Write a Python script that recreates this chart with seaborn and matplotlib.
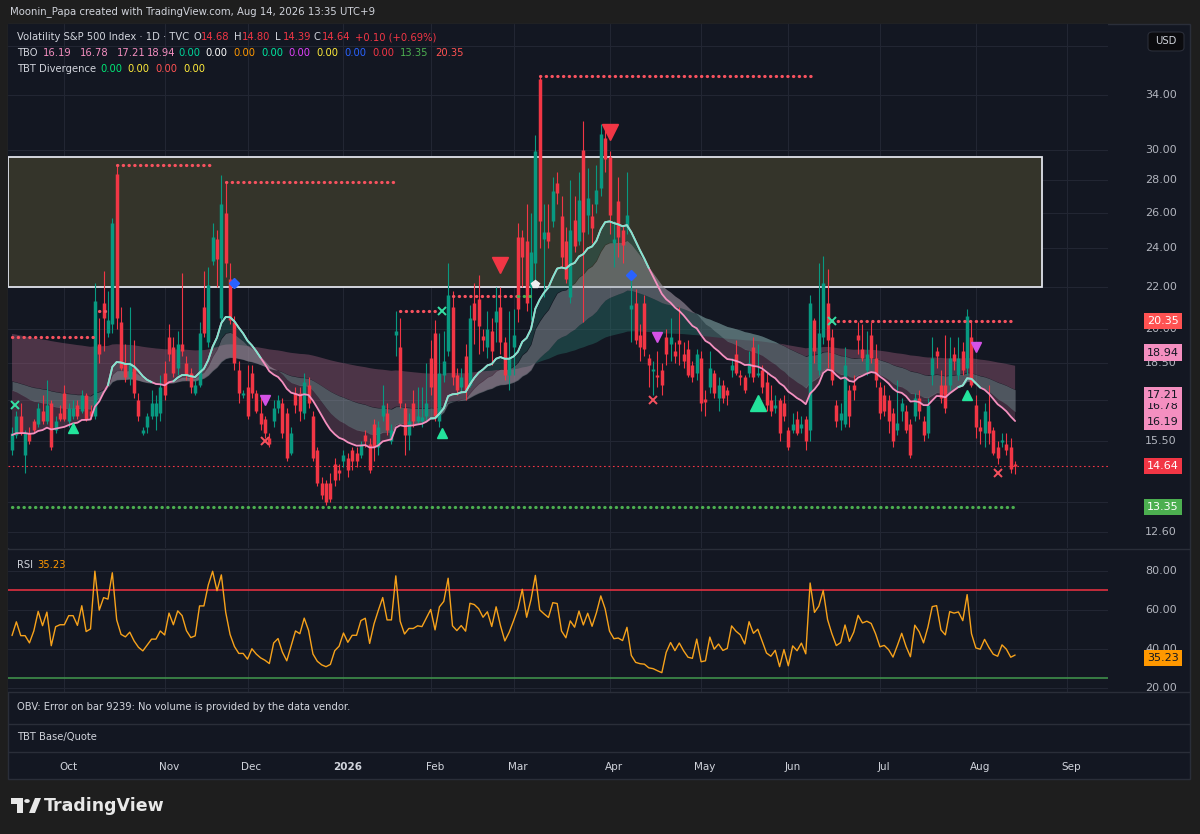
import numpy as np
import pandas as pd
import seaborn as sns
import matplotlib.pyplot as plt
from matplotlib.patches import Rectangle, Polygon, Circle, FancyBboxPatch
from matplotlib.transforms import blended_transform_factory, offset_copy

# ---- VIX daily candles, 15 Sep 2025 .. 14 Aug 2026 ----
opens = [
    15.2, 15.7, 16.4, 15.0, 15.8, 16.2, 16.1, 16.6, 16.2, 16.9,
    15.9, 16.5, 17.3, 16.2, 16.4, 16.8, 16.6, 17.2, 16.6, 16.4,
    19.3, 21.2, 19.8, 20.2, 28.4, 20.3, 18.5, 17.9, 18.3, 17.0,
    15.8, 16.0, 16.4, 16.4, 16.5, 18.1, 19.6, 19.2, 18.3, 19.3,
    18.5, 18.1, 17.3, 17.6, 21.0, 19.4, 23.3, 24.5, 20.5, 26.0,
    22.4, 20.3, 18.2, 17.2, 17.5, 18.1, 17.3, 16.5, 16.3, 15.6,
    16.2, 16.7, 16.9, 16.5, 15.1, 17.3, 17.3, 16.5, 17.6, 16.4,
    15.2, 14.1, 14.1, 14.1, 14.7, 14.5, 14.8, 14.9, 15.2, 15.1,
    15.0, 15.7, 15.4, 16.1, 15.3, 16.4, 16.5, 15.5, 19.7, 19.2,
    16.7, 15.7, 16.9, 16.2, 16.2, 16.4, 18.7, 19.8, 16.2, 18.0,
    19.0, 21.0, 18.0, 17.5, 18.8, 17.6, 21.2, 21.4, 19.65, 19.2,
    19.9, 20.3, 21.0, 19.4, 18.0, 19.2, 24.6, 24.6, 24.4, 22.0,
    23.2, 35.2, 24.5, 24.9, 25.5, 27.8, 25.8, 24.4, 21.5, 25.6,
    24.4, 30.0, 25.9, 25.8, 26.5, 27.5, 30.8, 29.5, 24.3, 26.7,
    25.0, 25.2, 20.9, 21.2, 19.7, 21.2, 18.7, 18.15, 18.0, 18.2,
    19.6, 19.3, 19.0, 19.5, 18.9, 19.1, 18.4, 18.1, 18.7, 17.05,
    17.5, 18.1, 17.1, 17.6, 17.4, 18.2, 18.9, 18.0, 17.9, 18.1,
    19.2, 18.0, 18.2, 17.7, 17.0, 16.7, 17.0, 16.9, 15.9, 15.9,
    16.3, 15.95, 16.3, 15.9, 20.4, 18.2, 19.6, 21.2, 19.6, 16.8,
    16.25, 16.1, 17.4, 17.6, 19.7, 19.1, 18.2, 19.7, 18.7, 17.5,
    17.2, 17.0, 16.5, 15.9, 16.6, 16.6, 16.1, 16.4, 17.1, 16.2,
    15.8, 18.0, 19.0, 17.6, 17.6, 17.6, 18.9, 18.0, 19.0, 18.3,
    19.6, 16.8, 16.0, 15.8, 16.2, 15.9, 15.3, 15.45, 15.4, 15.3,
    14.68,
]
highs = [
    16.0, 16.6, 16.9, 15.9, 16.0, 16.3, 16.9, 17.2, 17.8, 17.0,
    16.4, 16.8, 17.6, 16.9, 17.0, 17.0, 17.4, 17.3, 16.8, 22.2,
    20.5, 22.8, 21.8, 25.7, 29.0, 21.0, 19.3, 21.0, 19.5, 17.3,
    16.0, 16.5, 17.4, 17.2, 18.0, 18.6, 20.2, 19.6, 19.9, 22.7,
    18.8, 18.3, 17.8, 20.3, 22.8, 23.0, 25.4, 25.0, 28.3, 27.9,
    23.2, 20.6, 18.6, 17.4, 18.4, 18.4, 17.4, 17.2, 16.4, 15.8,
    17.0, 17.2, 17.1, 16.7, 16.0, 17.5, 17.5, 18.1, 17.9, 16.6,
    15.3, 14.3, 14.2, 14.4, 14.9, 14.7, 15.2, 15.1, 15.3, 15.3,
    15.5, 15.9, 15.6, 16.3, 16.2, 17.6, 16.9, 16.1, 20.8, 20.5,
    16.9, 16.5, 17.4, 17.5, 17.5, 18.5, 19.5, 20.4, 19.8, 19.9,
    23.2, 21.8, 18.3, 18.3, 19.3, 21.1, 22.2, 22.6, 20.0, 20.8,
    20.5, 22.0, 22.0, 19.6, 20.8, 20.9, 25.4, 25.0, 26.5, 26.0,
    31.0, 35.5, 26.5, 26.5, 28.2, 28.5, 27.0, 25.2, 28.0, 27.0,
    28.5, 32.0, 28.8, 26.5, 29.0, 31.8, 31.5, 29.9, 25.5, 28.2,
    25.3, 28.5, 22.6, 21.9, 20.2, 21.6, 18.9, 18.6, 19.0, 18.5,
    20.0, 20.5, 19.4, 21.0, 19.4, 19.5, 18.6, 19.1, 19.0, 17.4,
    19.0, 18.2, 17.9, 17.8, 17.5, 18.7, 19.5, 18.2, 18.0, 19.0,
    19.6, 19.3, 18.4, 18.1, 17.6, 17.2, 17.1, 17.2, 16.0, 16.5,
    16.6, 16.4, 16.4, 21.6, 20.5, 23.2, 23.6, 22.9, 20.0, 17.0,
    16.9, 19.2, 17.6, 18.0, 20.3, 20.2, 19.9, 20.3, 19.3, 17.7,
    17.6, 17.2, 16.7, 17.8, 17.1, 16.8, 16.3, 17.3, 17.4, 16.4,
    17.1, 19.6, 19.2, 18.2, 19.7, 19.6, 19.2, 19.6, 19.4, 20.9,
    20.3, 17.2, 16.3, 16.9, 17.6, 16.0, 15.5, 15.8, 15.8, 15.6,
    14.80,
]
lows = [
    15.0, 15.6, 15.7, 14.4, 15.4, 15.8, 16.0, 16.1, 16.1, 15.2,
    15.8, 16.2, 16.2, 16.0, 16.3, 16.3, 16.5, 16.2, 16.3, 16.3,
    18.5, 19.0, 19.6, 19.8, 20.0, 18.2, 17.7, 17.6, 17.1, 16.2,
    15.7, 15.8, 16.3, 15.9, 16.2, 17.0, 18.6, 17.9, 18.0, 18.8,
    17.8, 17.3, 17.2, 17.5, 19.6, 19.2, 23.1, 22.0, 20.2, 22.5,
    20.2, 18.2, 16.9, 17.1, 16.3, 17.1, 16.5, 15.9, 15.6, 15.3,
    16.0, 16.5, 15.6, 14.8, 15.0, 16.5, 16.2, 16.3, 16.7, 14.8,
    14.0, 13.6, 13.4, 13.5, 14.0, 14.2, 14.6, 14.3, 14.5, 14.6,
    14.9, 15.3, 14.4, 14.8, 15.0, 16.2, 15.7, 15.4, 18.8, 16.7,
    15.0, 15.2, 16.0, 16.1, 16.0, 16.2, 17.2, 16.2, 16.0, 17.7,
    18.8, 17.6, 17.2, 17.3, 17.0, 17.5, 19.3, 18.9, 19.0, 18.7,
    18.4, 19.4, 18.9, 17.8, 17.4, 18.0, 20.3, 22.0, 20.8, 20.4,
    22.2, 24.0, 21.5, 24.0, 25.2, 26.5, 23.0, 22.2, 21.2, 23.8,
    24.2, 20.3, 24.8, 24.3, 26.0, 27.0, 28.5, 24.8, 23.0, 23.5,
    23.2, 24.8, 19.4, 19.3, 18.6, 18.8, 17.5, 17.2, 17.5, 17.2,
    18.4, 18.6, 18.5, 18.4, 18.3, 17.9, 17.7, 17.8, 16.6, 16.4,
    17.3, 17.1, 16.6, 16.9, 16.8, 17.9, 18.0, 17.6, 17.3, 17.9,
    17.7, 17.9, 17.3, 16.6, 16.4, 16.5, 15.5, 16.2, 15.2, 15.8,
    15.7, 15.8, 15.2, 15.5, 18.5, 18.0, 19.3, 18.3, 17.6, 16.0,
    15.9, 16.0, 16.0, 17.0, 18.9, 18.6, 18.0, 18.5, 17.5, 16.3,
    16.4, 15.8, 15.3, 15.7, 16.2, 15.8, 14.9, 16.2, 16.3, 15.5,
    15.6, 17.6, 18.3, 16.9, 16.5, 17.4, 18.2, 17.8, 18.0, 18.0,
    17.5, 15.6, 15.4, 15.3, 15.4, 15.0, 14.7, 15.3, 15.0, 14.4,
    14.39,
]
closes = [
    15.8, 16.4, 15.8, 15.8, 15.5, 15.9, 16.7, 16.2, 16.8, 15.3,
    16.2, 16.3, 16.3, 16.7, 16.7, 16.4, 17.2, 16.3, 16.4, 21.3,
    18.9, 20.5, 20.4, 25.4, 20.5, 18.3, 17.9, 18.5, 17.3, 16.4,
    15.9, 16.4, 16.9, 16.9, 17.5, 17.2, 18.9, 18.1, 19.3, 19.0,
    18.0, 17.5, 17.6, 19.8, 19.8, 22.1, 24.6, 23.4, 26.5, 23.2,
    20.4, 18.5, 17.3, 17.3, 16.4, 17.3, 16.6, 16.1, 15.8, 15.4,
    16.7, 17.0, 15.8, 14.9, 15.8, 16.8, 16.6, 17.7, 16.9, 14.9,
    14.1, 13.7, 13.5, 13.6, 14.2, 14.4, 15.0, 14.5, 14.8, 14.8,
    15.4, 15.5, 14.5, 15.3, 16.0, 16.8, 15.9, 15.9, 19.9, 16.9,
    15.7, 16.2, 16.2, 16.4, 16.35, 16.9, 17.5, 16.4, 18.1, 18.6,
    21.6, 17.9, 17.4, 17.9, 17.4, 20.5, 20.4, 20.1, 19.5, 20.0,
    19.0, 20.8, 19.4, 18.0, 18.7, 19.7, 20.9, 23.5, 21.2, 23.8,
    29.9, 25.5, 24.9, 24.4, 27.3, 27.2, 23.5, 22.4, 25.0, 24.1,
    26.8, 24.9, 26.9, 25.1, 27.4, 31.1, 29.4, 25.9, 24.5, 24.6,
    24.2, 25.9, 21.1, 19.5, 19.2, 19.1, 18.4, 18.25, 17.9, 17.6,
    18.9, 19.6, 18.8, 19.3, 18.6, 18.0, 17.9, 18.9, 16.9, 16.95,
    18.3, 17.3, 17.6, 17.1, 17.2, 18.4, 18.1, 17.9, 17.4, 18.5,
    17.9, 18.1, 17.5, 16.8, 16.6, 16.8, 15.8, 16.4, 15.3, 16.1,
    15.8, 16.1, 15.5, 21.2, 19.0, 19.8, 22.2, 19.5, 17.8, 16.2,
    16.5, 18.4, 16.4, 17.4, 19.5, 18.7, 18.9, 18.7, 17.8, 16.5,
    16.6, 16.2, 15.5, 16.15, 16.9, 15.9, 15.0, 17.1, 16.6, 15.7,
    16.8, 18.7, 18.8, 17.1, 16.7, 18.7, 18.6, 18.7, 18.2, 20.6,
    17.6, 16.0, 15.85, 16.6, 15.8, 15.1, 14.9, 15.55, 15.2, 14.54,
    14.64,
]

first_day = "2025-09-15"
holidays = ["2025-11-27", "2025-12-25", "2026-01-01", "2026-01-19", "2026-02-16",
            "2026-04-03", "2026-05-25", "2026-06-19", "2026-07-03"]

# TBO moving averages: span and the level each one starts from at the first bar
tbo_spans = [20, 30, 70, 200]
tbo_seeds = [15.7, 17.5, 17.8, 19.8]
rsi_len = 8
rsi_seed = (0.30, 0.34)   # average gain / loss before the first bar

# dotted TBO levels: (first bar, last bar, price, colour)
levels = [
    (0, 18.5, 19.6, "r"), (20, 22, 20.8, "r"), (24, 46, 29.0, "r"),
    (49, 88.5, 27.9, "r"), (89, 98, 20.8, "r"), (101, 116, 21.55, "r"),
    (116, 120, 21.55, "g"), (121, 183.5, 35.5, "r"), (188, 230, 20.35, "r"),
    (0, 230, 13.35, "g"),
]

# signal markers: (bar, price, kind)
signals = [
    (0.7, 16.8, "gx"), (14, 15.95, "g^"), (51, 22.2, "bd"), (58, 17.0, "mv"),
    (58, 15.5, "rx"), (98.5, 20.8, "gx"), (98.5, 15.8, "g^"), (112, 23.1, "RV"),
    (120, 22.15, "w"), (137, 31.2, "RV"), (142, 22.6, "bd"), (148, 19.6, "mv"),
    (147, 17.0, "rx"), (171, 16.9, "G^"), (188, 20.35, "gx"), (219, 17.2, "g^"),
    (221, 19.2, "mv"), (226, 14.4, "rx"),
]

box_bars = (-1, 236.2)
box_prices = (22.0, 29.5)

tbo_values = [16.19, 16.78, 17.21, 18.94]
support, resistance = 13.35, 20.35
rsi_last = 35.23
grid_ticks = [38, 34, 30, 28, 26, 24, 22, 20, 18.5, 17, 15.5, 13.5, 12.6]
price_ticks = [34, 30, 28, 26, 24, 22, 20, 18.5, 15.5, 12.6]
rsi_ticks = [80, 60, 40, 20]
rsi_upper, rsi_lower = 70, 25

# ---- derived series ----
n = len(closes)
x = np.arange(n)
o, h, l, c = map(np.array, (opens, highs, lows, closes))


def ema(vals, span, seed):
    a = 2 / (span + 1)
    out, prev = [], seed
    for v in vals:
        prev = prev + a * (v - prev)
        out.append(prev)
    return np.array(out)


l1, l2, l3, l4 = [ema(c, sp, sd) for sp, sd in zip(tbo_spans, tbo_seeds)]

diff = np.diff(c, prepend=c[0])
ag, al = rsi_seed
rsi = []
for d in diff:
    ag = (ag * (rsi_len - 1) + max(d, 0)) / rsi_len
    al = (al * (rsi_len - 1) + max(-d, 0)) / rsi_len
    rsi.append(100 - 100 / (1 + ag / al))
rsi = np.array(rsi)

dates = pd.bdate_range(first_day, "2026-09-30", freq="C", holidays=holidays)
months = pd.Series(np.arange(len(dates)), index=dates)
month_first = months.groupby(dates.to_period("M")).first()
month_first = month_first[month_first > 0]

# ---- style ----
sns.set_theme(style="dark")
plt.rcParams["font.family"] = ["DejaVu Sans"]
BG = "#131722"
GRID = "#222633"
TXT = "#d1d4dc"
UP, DN = "#089981", "#f23645"
RED_DOT, GRN_DOT = "#f7525f", "#4caf50"
TEAL, PINK, GREY = "#2b7a70", "#a3607f", "#9aa4ab"

W, H = 1200, 834
fig = plt.figure(figsize=(12, 8.34), dpi=100)
fig.patch.set_facecolor("#1e1e1e")


def fx(px):
    return px / W


def fy(py):
    return 1 - py / H


def px_axes(x0, y0, w, hh):
    a = fig.add_axes([fx(x0), fy(y0 + hh), w / W, hh / H])
    a.set_facecolor(BG)
    for sp in a.spines.values():
        sp.set_visible(False)
    return a


def ftext(px, py, txt, color=TXT, size=7.2, **kw):
    fig.text(fx(px), fy(py), txt, color=color, fontsize=size, va="center", **kw)


fig.patches.append(Rectangle((fx(8), fy(779)), 1182 / W, 755 / H, transform=fig.transFigure,
                             fc=BG, ec="#2a2e39", lw=1, zorder=-5))

XL = (-0.92, 251.3)

# ---- price pane ----
ax = px_axes(8, 24, 1100, 524)
ax.set_yscale("log")
ax.set_xlim(*XL)
ax.set_ylim(12.16, 39.9)
ax.set_xticks([])
ax.set_yticks([])
ax.minorticks_off()
for t in grid_ticks:
    ax.axhline(t, color=GRID, lw=0.8, zorder=0)
for i in month_first.values:
    ax.axvline(i, color=GRID, lw=0.8, zorder=0)

ax.add_patch(Rectangle((box_bars[0], box_prices[0]), box_bars[1] - box_bars[0],
                       box_prices[1] - box_prices[0], fc="#34342a", ec="#e0e3eb", lw=1.3, zorder=1))


def cloud(a, b, alpha):
    ax.fill_between(x, a, b, where=a >= b, interpolate=True, color=TEAL, alpha=alpha, lw=0, zorder=1.5)
    ax.fill_between(x, a, b, where=a < b, interpolate=True, color=PINK, alpha=alpha, lw=0, zorder=1.5)


cloud(l1, l2, 0.30)
cloud(l3, l4, 0.40)
ax.fill_between(x, l2, l3, color=GREY, alpha=0.45, lw=0, zorder=1.6)

# candles: wick then body (body drawn as a thick line so it keeps its width)
cols = np.where(c >= o, UP, DN)
top = np.maximum(o, c)
bot = np.minimum(o, c)
top = np.where(top / bot < 1.004, bot * 1.004, top)
ax.vlines(x, l, h, colors=cols, lw=0.8, zorder=3)
ax.vlines(x, bot, top, colors=cols, lw=2.5, zorder=4, capstyle="butt")

bull = l1 >= l2
bull_ext = bull | np.r_[False, bull[:-1]]
ax.plot(x, l1, color="#f590c0", lw=1.3, zorder=5)
ax.plot(x, np.where(bull_ext, l1, np.nan), color="#7ee8cf", lw=1.3, zorder=5.1)

for a, b, p, k in levels:
    ax.plot([a, b], [p, p], ls=(0, (0.1, 1.7)), lw=2.3, dash_capstyle="round",
            color=RED_DOT if k == "r" else GRN_DOT, zorder=6)
ax.axhline(c[-1], color=DN, lw=0.8, ls=(0, (1.5, 2.5)), zorder=2)

mstyle = {
    "gx": dict(marker="x", color="#35e0a4", ms=6, mew=1.4),
    "rx": dict(marker="x", color=RED_DOT, ms=6, mew=1.4),
    "g^": dict(marker="^", color="#23e49c", ms=7),
    "G^": dict(marker="^", color="#23e49c", ms=11),
    "mv": dict(marker="v", color="#d452e6", ms=7),
    "RV": dict(marker="v", color=DN, ms=12),
    "bd": dict(marker="D", color="#2962ff", ms=5),
    "w": dict(marker="p", color="#f0f0f0", ms=6),
}
for bi, p, k in signals:
    ax.plot([bi], [p], ls="none", zorder=7, **mstyle[k])

ytr = ax.get_yaxis_transform()
for t in price_ticks:
    ax.text(1.0 + 37 / 1100, t, f"{t:.2f}", transform=ytr, ha="left", va="center",
            color="#b2b5be", fontsize=8, clip_on=False, zorder=8)


def price_box(val, fc, tc):
    ax.text(1.05, val, f"{val:.2f}", transform=ytr, ha="center", va="center", color=tc,
            fontsize=8, clip_on=False, zorder=9,
            bbox=dict(boxstyle="square,pad=0.28", fc=fc, ec="none"))


price_box(support, "#4caf50", "white")
price_box(c[-1], "#f23645", "white")
for v in tbo_values:
    price_box(v, "#f48fc0", "#131722")
price_box(resistance, "#ff5252", "white")

# ---- RSI pane ----
axr = px_axes(8, 549, 1100, 143)
axr.set_xlim(*XL)
axr.set_ylim(17.9, 91.3)
axr.set_xticks([])
axr.set_yticks([])
for t in rsi_ticks:
    axr.axhline(t, color=GRID, lw=0.8, zorder=0)
for i in month_first.values:
    axr.axvline(i, color=GRID, lw=0.8, zorder=0)
axr.axhline(rsi_upper, color="#e03040", lw=1.2, zorder=1)
axr.axhline(rsi_lower, color="#3f8f4a", lw=1.2, zorder=1)
sns.lineplot(x=x, y=rsi, ax=axr, color="#f7a21b", lw=1.0, zorder=3)
axr.set_xlabel("")
axr.set_ylabel("")
rtr = axr.get_yaxis_transform()
for t in rsi_ticks:
    axr.text(1.0 + 37 / 1100, t, f"{t:.2f}", transform=rtr, ha="left", va="center",
             color="#b2b5be", fontsize=8, clip_on=False, zorder=8)
axr.text(1.05, rsi_last, f"{rsi_last:.2f}", transform=rtr, ha="center", va="center",
         color="#131722", fontsize=8, clip_on=False, zorder=9,
         bbox=dict(boxstyle="square,pad=0.28", fc="#ff9800", ec="none"))

# pane separators
for yy in (548.5, 692, 724, 752):
    fig.add_artist(plt.Line2D([fx(8), fx(1190)], [fy(yy), fy(yy)], color="#2a2e39", lw=1))

# ---- time axis ----
ttr = offset_copy(blended_transform_factory(ax.transData, fig.transFigure), fig=fig, x=4, y=0, units="dots")
for d, i in month_first.items():
    lab = str(d.year) if d.month == 1 else d.strftime("%b")
    ax.text(i, fy(767), lab, transform=ttr, ha="center", va="center", color=TXT,
            fontsize=7.5, fontweight="bold" if d.month == 1 else "normal", clip_on=False)

# ---- headers ----
ftext(10, 12, "Moonin_Papa created with TradingView.com, Aug 14, 2026 13:35 UTC+9", size=7.3)
ftext(17, 37, "Volatility S&P 500 Index · 1D · TVC")
chg = c[-1] - c[-2]
for px0, lab, val in [(193, "O", o[-1]), (234, "H", h[-1]), (275, "L", l[-1]), (314, "C", c[-1])]:
    ftext(px0, 37, lab)
    ftext(px0 + 8, 37, f"{val:.2f}", color=DN)
ftext(355, 37, f"{chg:+.2f} ({chg / c[-2] * 100:+.2f}%)", color=DN)

ftext(17, 53, "TBO")
tbo_cols = ["#00d49a", "#ffffff", "#ff9800", "#00e6a0", "#e040fb", "#ffeb3b", "#2962ff", "#f23645"]
for px0, v in zip([43, 80, 117, 147], tbo_values):
    ftext(px0, 53, f"{v:.2f}", color="#f48fc0")
for k, col in enumerate(tbo_cols):
    ftext(178 + k * 27.7, 53, "0.00", color=col)
ftext(400, 53, f"{support:.2f}", color="#4caf50")
ftext(435, 53, f"{resistance:.2f}", color="#ff5252")

ftext(17, 69, "TBT Divergence")
for k, col in enumerate(["#00e676", "#ffeb3b", "#ff5252", "#ffeb3b"]):
    ftext(100 + k * 27.7, 69, "0.00", color=col)

ftext(17, 565, "RSI")
ftext(37, 565, f"{rsi_last:.2f}", color="#ff9800")
ftext(17, 707, "OBV: Error on bar 9239: No volume is provided by the data vendor.")
ftext(17, 737, "TBT Base/Quote")

# USD button
fig.patches.append(FancyBboxPatch((fx(1148), fy(51)), 36 / W, 19 / H, transform=fig.transFigure,
                                  boxstyle="round,pad=0,rounding_size=0.004",
                                  fc="#0b0b0e", ec="#2a2e39", lw=0.8))
ftext(1166, 41.5, "USD", size=7.2, ha="center")

# TradingView logo
logo_col = "#e8e8e8"
fig.patches.append(Polygon([(fx(11), fy(798)), (fx(23), fy(798)), (fx(23), fy(813)),
                            (fx(17), fy(813)), (fx(17), fy(803.5)), (fx(11), fy(803.5))],
                           closed=True, transform=fig.transFigure, fc=logo_col, ec="none"))
fig.patches.append(Circle((fx(27), fy(801)), 2.8 / W, transform=fig.transFigure, fc=logo_col, ec="none"))
fig.patches.append(Polygon([(fx(29), fy(813)), (fx(35), fy(798)), (fx(41), fy(798)), (fx(35), fy(813))],
                           closed=True, transform=fig.transFigure, fc=logo_col, ec="none"))
ftext(44, 806, "TradingView", color=logo_col, size=12.5, fontweight="bold")

fig.savefig("out.png", dpi=100, facecolor=fig.get_facecolor())
